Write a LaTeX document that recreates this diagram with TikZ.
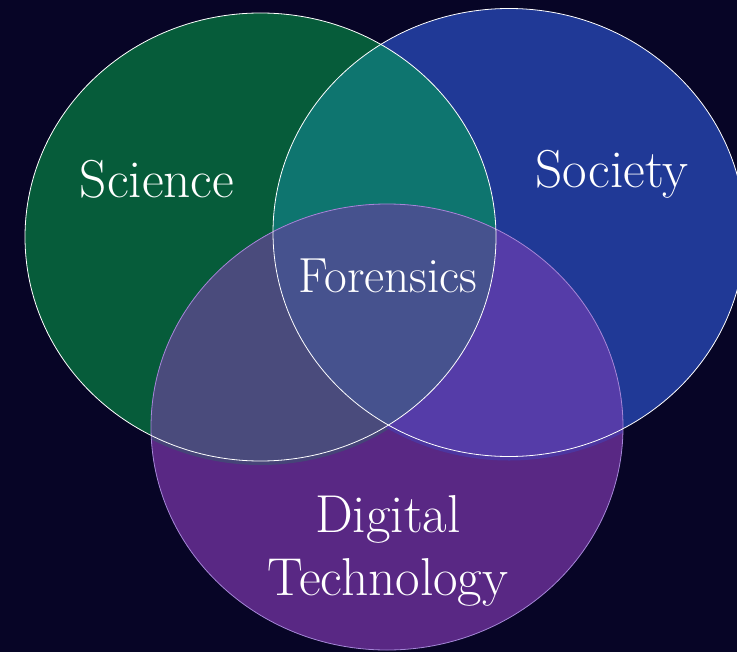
\documentclass[tikz,border=0pt]{standalone}
\usetikzlibrary{positioning}
\definecolor{night}{RGB}{7,5,38}
\definecolor{scigreen}{RGB}{6,92,58}
\definecolor{socblue}{RGB}{32,57,150}
\definecolor{digpurple}{RGB}{89,40,132}
\definecolor{sciandsoc}{RGB}{14,117,111}
\definecolor{sciandtech}{RGB}{74,75,124}
\definecolor{socandtech}{RGB}{85,60,168}
\definecolor{allthree}{RGB}{70,82,142}
\definecolor{gpshade}{RGB}{70,68,120}
\definecolor{bpshade}{RGB}{76,54,160}
\definecolor{digrim}{RGB}{165,135,215}
\newcommand{\sciellipse}{(260.5,237) ellipse [x radius=235.5, y radius=224]}
\newcommand{\socellipse}{(509,232.5) ellipse [x radius=236, y radius=224]}
\newcommand{\digellipse}{(387,427) ellipse [x radius=236, y radius=223]}
\tikzset{
  lbl/.style={text=white, font=\fontsize{40}{47}\selectfont, inner sep=0pt, align=center},
  rim/.style={draw=white, line width=0.6pt}
}

\begin{document}
\begin{tikzpicture}[x=0.75pt, y=-0.75pt]
  \fill[night] (0,0) rectangle (737,652);
  \useasboundingbox (0,0) rectangle (737,652);
  % the two upper circles
  \fill[scigreen] \sciellipse;
  \fill[socblue] \socellipse;
  \begin{scope}
    \clip \sciellipse;
    \fill[sciandsoc] \socellipse;
  \end{scope}
  % digital technology over both
  \fill[digpurple] \digellipse;
  \begin{scope}
    \clip \digellipse;
    \fill[gpshade, yshift=-3pt] \sciellipse;
    \fill[bpshade, yshift=-3pt] \socellipse;
    \fill[sciandtech] \sciellipse;
    \fill[socandtech] \socellipse;
    \clip \sciellipse;
    \fill[allthree] \socellipse;
  \end{scope}
  % outlines
  \draw[digrim, line width=0.6pt] \digellipse;
  \draw[rim] \sciellipse;
  \draw[rim] \socellipse;
  % labels
  \node[lbl, anchor=base] (science) at (157,197) {Science};
  \node[lbl, anchor=base] (society) at (612,187) {Society};
  \node[lbl, anchor=base, font=\fontsize{37}{44}\selectfont] (forensics) at (388,292) {Forensics};
  \node[lbl] (digital) at (388,551) {Digital\\Technology};
\end{tikzpicture}
\end{document}
